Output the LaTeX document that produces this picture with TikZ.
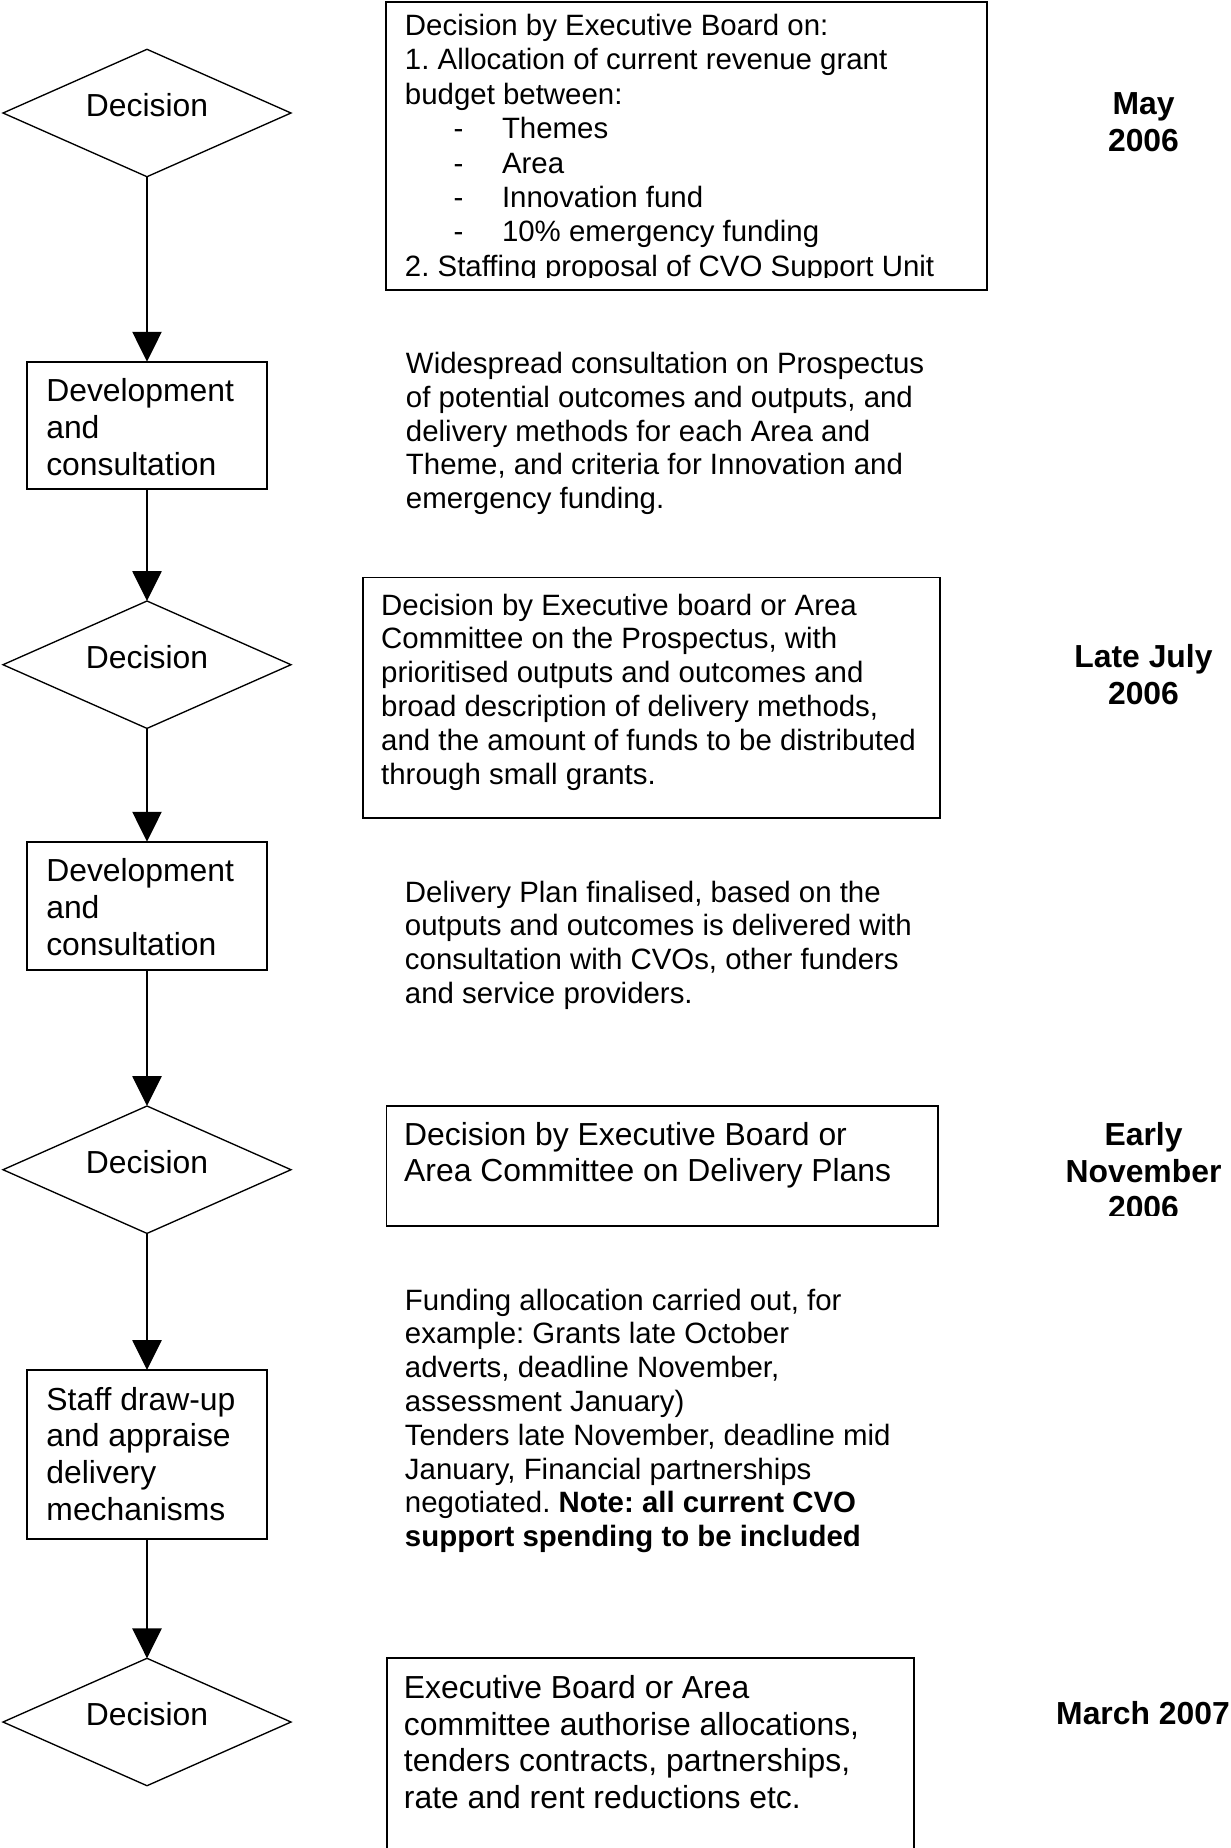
\documentclass[tikz,border=0pt]{standalone}
\usepackage{fontspec}
\setmainfont{Liberation Sans}
\usetikzlibrary{shapes.geometric,arrows.meta}
\frenchspacing
\begin{document}
\begin{tikzpicture}[x=0.408pt,y=-0.408pt,
  dec/.style={diamond, draw, line width=0.55pt, inner sep=0pt, outer sep=0pt, minimum width=117.5pt, minimum height=51.98pt},
  lbox/.style={rectangle, draw, line width=0.8pt, inner sep=0pt, outer sep=0pt, minimum width=98.16pt},
  arr/.style={line width=0.55pt, -{Triangle[length=12.2pt, width=11.95pt]}},
  rbox/.style={draw, line width=0.8pt},
  bigtxt/.style={anchor=base west, inner sep=0pt, font=\fontsize{13}{14.97}\selectfont},
  smalltxt/.style={anchor=base west, inner sep=0pt, font=\fontsize{12}{13.8}\selectfont},
  datelbl/.style={anchor=base, inner sep=0pt, font=\fontsize{13}{14.97}\selectfont\bfseries},
  declbl/.style={anchor=base, inner sep=0pt, font=\fontsize{13}{14.97}\selectfont},
]
\useasboundingbox (0,0) rectangle (1231,1848);

% ---------- left column ----------
\node[dec] (d1) at (147,113) {};
\node[declbl] (d1t) at (147,116.5) {Decision};
\node[lbox, minimum height=51.94pt] (b1) at (147,425.35) {};
\node[bigtxt] (b1t) at (45.8,401.7) {\begin{tabular}[t]{@{}l@{}}Development\\and\\consultation\end{tabular}};
\node[dec] (d2) at (147,664.7) {};
\node[declbl] (d2t) at (147,668.2) {Decision};
\node[lbox, minimum height=52.35pt] (b2) at (147,905.85) {};
\node[bigtxt] (b2t) at (45.8,881.7) {\begin{tabular}[t]{@{}l@{}}Development\\and\\consultation\end{tabular}};
\node[dec] (d3) at (147,1169.7) {};
\node[declbl] (d3t) at (147,1173.2) {Decision};
\node[lbox, minimum height=68.75pt] (b3) at (147,1454.25) {};
\node[bigtxt] (b3t) at (46,1410) {\begin{tabular}[t]{@{}l@{}}Staff draw-up\\and appraise\\delivery\\mechanisms\end{tabular}};
\node[dec] (d4) at (147,1722) {};
\node[declbl] (d4t) at (147,1725.5) {Decision};

\draw[arr] (d1.south) -- (b1.north);
\draw[arr] (b1.south) -- (d2.north);
\draw[arr] (d2.south) -- (b2.north);
\draw[arr] (b2.south) -- (d3.north);
\draw[arr] (d3.south) -- (b3.north);
\draw[arr] (b3.south) -- (d4.north);

% ---------- right column ----------
\draw[rbox] (386,2.4) rectangle (987,290);
\begin{scope}
\clip (386,2.4) rectangle (987,277.5);
\node[smalltxt, font=\fontsize{12}{14.04}\selectfont] (r1t) at (404.5,35.5) {\begin{tabular}[t]{@{}l@{}}Decision by Executive Board on:\\
1. Allocation of current revenue grant\\
budget between:\\
\hspace*{19.8pt}\makebox[19.8pt][l]{-}Themes\\
\hspace*{19.8pt}\makebox[19.8pt][l]{-}Area\\
\hspace*{19.8pt}\makebox[19.8pt][l]{-}Innovation fund\\
\hspace*{19.8pt}\makebox[19.8pt][l]{-}10\% emergency funding\\
2. Staffing proposal of CVO Support Unit\end{tabular}};
\end{scope}

\node[smalltxt] (t1) at (405.5,373.5) {\begin{tabular}[t]{@{}l@{}}Widespread consultation on Prospectus\\
of potential outcomes and outputs, and\\
delivery methods for each Area and\\
Theme, and criteria for Innovation and\\
emergency funding.\end{tabular}};

\draw[rbox] (363,577.5) rectangle (940,818);
\node[smalltxt] (r2t) at (380.7,615) {\begin{tabular}[t]{@{}l@{}}Decision by Executive board or Area\\
Committee on the Prospectus, with\\
prioritised outputs and outcomes and\\
broad description of delivery methods,\\
and the amount of funds to be distributed\\
through small grants.\end{tabular}};

\node[smalltxt] (t2) at (404.5,902) {\begin{tabular}[t]{@{}l@{}}Delivery Plan finalised, based on the\\
outputs and outcomes is delivered with\\
consultation with CVOs, other funders\\
and service providers.\end{tabular}};

\draw[rbox] (386.5,1106) rectangle (938,1226);
\node[bigtxt] (r3t) at (403.7,1145) {\begin{tabular}[t]{@{}l@{}}Decision by Executive Board or\\
Area Committee on Delivery Plans\end{tabular}};

\node[smalltxt] (t3) at (404.5,1310) {\begin{tabular}[t]{@{}l@{}}Funding allocation carried out, for\\
example: Grants late October\\
adverts, deadline November,\\
assessment January)\\
Tenders late November, deadline mid\\
January, Financial partnerships\\
negotiated. \textbf{Note: all current CVO}\\
\textbf{support spending to be included}\end{tabular}};

\draw[rbox] (386.7,1849) |- (914,1657.5) -- (914,1849);
\node[bigtxt] (r4t) at (403.5,1698.3) {\begin{tabular}[t]{@{}l@{}}Executive Board or Area\\
committee authorise allocations,\\
tenders contracts, partnerships,\\
rate and rent reductions etc.\end{tabular}};

% ---------- dates ----------
\node[datelbl] (m1) at (1143.5,114.5) {\begin{tabular}[t]{@{}c@{}}May\\2006\end{tabular}};
\node[datelbl] (m2) at (1143.5,667.5) {\begin{tabular}[t]{@{}c@{}}Late July\\2006\end{tabular}};
\begin{scope}
\clip (1000,1100) rectangle (1231,1215.5);
\node[datelbl] (m3) at (1143.5,1145.5) {\begin{tabular}[t]{@{}c@{}}Early\\November\\2006\end{tabular}};
\end{scope}
\node[datelbl] (m4) at (1143,1724.5) {March 2007};
\end{tikzpicture}
\end{document}
